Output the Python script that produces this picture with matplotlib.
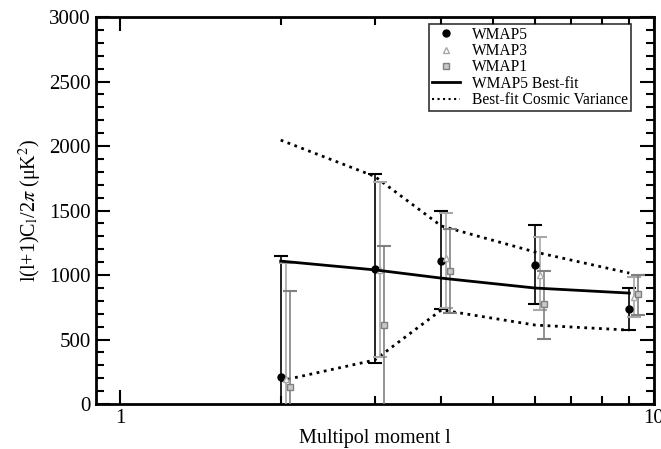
import matplotlib
matplotlib.use("Agg")
import matplotlib.pyplot as plt
import numpy as np
from matplotlib.ticker import FixedLocator, NullFormatter, FixedFormatter
from matplotlib.lines import Line2D

plt.rcParams['font.family'] = ['Liberation Serif', 'DejaVu Serif']
plt.rcParams['mathtext.fontset'] = 'stix'

# multipole moments
ell = [2, 3, 4, 6, 9]

# WMAP5 values and error bounds
w5_val = [209, 1046, 1108, 1077, 736]
w5_hi = [1147, 1785, 1500, 1387, 899]
w5_lo = [-100, 318, 736, 775, 573]

# WMAP3
w3_val = [194, 1040, 1131, 1000, 829]
w3_hi = [1093, 1720, 1480, 1295, 984]
w3_lo = [-100, 364, 744, 729, 674]

# WMAP1
w1_val = [132, 612, 1030, 775, 853]
w1_hi = [876, 1225, 1356, 1031, 1000]
w1_lo = [-100, -100, 705, 504, 690]

# best fit and cosmic variance band
fit = [1108, 1040, 976, 899, 860]
cv_hi = [2046, 1765, 1380, 1178, 1015]
cv_lo = [180, 341, 729, 612, 573]

fig = plt.figure(figsize=(6.61, 4.49), dpi=100)
ax = fig.add_axes([0.1446, 0.1002, 0.8444, 0.8618])

def eb(x, v, hi, lo, fmt, color, mfc, ms, shift):
    x = np.array(x) * shift
    v = np.array(v); hi = np.array(hi); lo = np.array(lo)
    ax.errorbar(x, v, yerr=[v - lo, hi - v], fmt=fmt, color=color, mfc=mfc,
                mec=color, ms=ms, ecolor=color, elinewidth=1.2, capsize=5,
                capthick=1.5, zorder=3)

eb(ell, w5_val, w5_hi, w5_lo, 'o', 'black', 'black', 5, 1.0)
eb(ell, w3_val, w3_hi, w3_lo, '^', '#a8a8a8', 'white', 5, 1.022)
eb(ell, w1_val, w1_hi, w1_lo, 's', '#808080', '#c8c8c8', 5, 1.04)

ax.plot(ell, fit, '-', color='black', lw=2, zorder=4)
ax.plot(ell, cv_hi, ':', color='black', lw=2, zorder=2)
ax.plot(ell, cv_lo, ':', color='black', lw=2, zorder=2)

ax.set_xscale('log')
ax.set_xlim(0.9, 10)
ax.set_ylim(0, 3000)
ax.xaxis.set_major_locator(FixedLocator([1, 10]))
ax.xaxis.set_major_formatter(FixedFormatter(['1', '10']))
ax.xaxis.set_minor_locator(FixedLocator([2, 3, 4, 5, 6, 7, 8, 9]))
ax.xaxis.set_minor_formatter(NullFormatter())
ax.set_yticks(np.arange(0, 3001, 500))
ax.set_yticks(np.arange(0, 3001, 100), minor=True)

ax.tick_params(which='both', direction='in', top=True, right=True, labelsize=15, width=1.5)
ax.tick_params(which='major', length=10)
ax.tick_params(which='minor', length=6)
for s in ax.spines.values():
    s.set_linewidth(2)

ax.set_xlabel('Multipol moment l', fontsize=14.5, labelpad=1)
ax.set_ylabel('l(l+1)C$_{\\mathrm{l}}$/2$\\pi$ (μK$^{2}$)', fontsize=14.5, labelpad=4)

handles = [
    Line2D([], [], ls='none', marker='o', color='black', ms=5),
    Line2D([], [], ls='none', marker='^', color='#a8a8a8', mfc='white', ms=5),
    Line2D([], [], ls='none', marker='s', color='#808080', mfc='#c8c8c8', ms=5),
    Line2D([], [], ls='-', color='black', lw=2),
    Line2D([], [], ls=':', color='black', lw=1.5),
]
labels = ['WMAP5', 'WMAP3', 'WMAP1', 'WMAP5 Best-fit', 'Best-fit Cosmic Variance']
leg = ax.legend(handles, labels, loc='upper right', bbox_to_anchor=(0.96, 0.983),
                fontsize=11.2, frameon=True, fancybox=False, edgecolor='black',
                handlelength=1.8, borderpad=0.2, labelspacing=0.02, handletextpad=0.8,
                borderaxespad=0.0)
leg.get_frame().set_linewidth(1.2)

fig.savefig('out.png', dpi=100)
